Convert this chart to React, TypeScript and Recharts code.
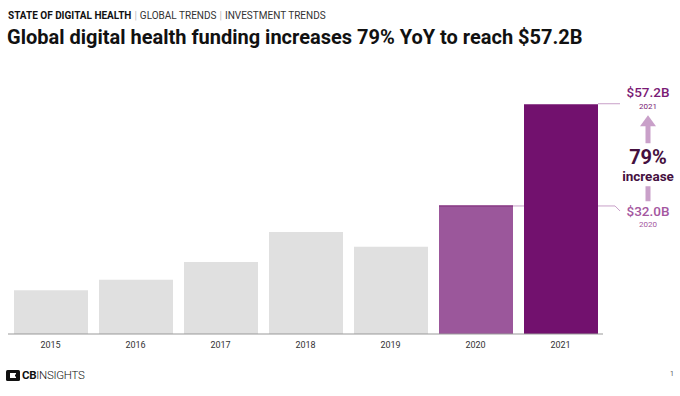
import React from 'react';
import { BarChart, Bar, XAxis, YAxis, Cell, LabelList } from 'recharts';

const years = ['2015', '2016', '2017', '2018', '2019', '2020', '2021'];
const funding = [10.9, 13.5, 17.9, 25.4, 21.7, 32.0, 57.2];
const yoyIncrease = '79%';

const data = years.map((y, i) => ({ year: y, value: funding[i] }));

const W = 680;
const H = 396;
const MARGIN = { top: 93, right: 77, bottom: 32, left: 8 };
const BAR_SIZE = 74;
const BAND = (W - MARGIN.left - MARGIN.right) / years.length;
const GAP = BAND - BAR_SIZE;

const GRAY = '#e0e0e0';
const MID = '#9b579b';
const DARK = '#72116e';
const LEAD = '#c9a0c9';
const FONT = 'Roboto, "Noto Sans", sans-serif';

const colorFor = (i: number) => (i === years.length - 1 ? DARK : i === years.length - 2 ? MID : GRAY);

const fmt = (v: number) => `$${v.toFixed(1)}B`;

const Annot = (props: any) => {
  const { x, y, width, height, index } = props;
  const last = years.length - 1;
  if (index === last - 1) {
    const r = x + width;
    return (
      <g>
        <line x1={x} y1={y + 0.5} x2={r} y2={y + 0.5} stroke="#7d2a78" strokeWidth={1} />
        <line x1={r} y1={y + 0.5} x2={r + GAP} y2={y + 0.5} stroke={LEAD} strokeWidth={1} />
      </g>
    );
  }
  if (index !== last) return null;
  const r = x + width;
  const base = y + height;
  const prevVal = funding[last - 1];
  const curVal = funding[last];
  const yPrev = base - (prevVal / curVal) * height + 0.5;
  const cx = r + 50;
  return (
    <g fontFamily={FONT}>
      <line x1={r} y1={y - 0.5} x2={r + 22} y2={y - 0.5} stroke={LEAD} strokeWidth={1} />
      <text x={cx} y={y - 7} textAnchor="middle" fontSize={13.5} fontWeight={500} fill="#7a1a75">{fmt(curVal)}</text>
      <text x={cx} y={y + 5} textAnchor="middle" fontSize={8} fill="#7a1a75">{years[last]}</text>
      <polygon points={`${cx - 8},${y + 22} ${cx + 8},${y + 22} ${cx},${y + 11}`} fill={LEAD} />
      <rect x={cx - 2.5} y={y + 21} width={5} height={18} fill={LEAD} />
      <text x={cx} y={y + 60} textAnchor="middle" fontSize={20} fontWeight={700} fill="#45103f">{yoyIncrease}</text>
      <text x={cx} y={y + 77} textAnchor="middle" fontSize={13.5} fontWeight={700} fill="#45103f">increase</text>
      <rect x={cx - 2.5} y={y + 82} width={5} height={15} fill={LEAD} />
      <polyline points={`${r},${yPrev} ${r + 17},${yPrev} ${r + 22},${yPrev + 5}`} fill="none" stroke={LEAD} strokeWidth={1} />
      <text x={cx} y={yPrev + 10} textAnchor="middle" fontSize={13.5} fontWeight={500} fill="#a457a0">{fmt(prevVal)}</text>
      <text x={cx} y={yPrev + 21} textAnchor="middle" fontSize={8} fill="#a457a0">{years[last - 1]}</text>
    </g>
  );
};

export default function App() {
  return (
    <div style={{ position: 'absolute', left: 0, top: 0, width: W, height: H, background: '#fff', fontFamily: FONT, overflow: 'hidden' }}>
      <div style={{ position: 'absolute', left: 8, top: 9, fontSize: 10, color: '#111', whiteSpace: 'nowrap', lineHeight: '13px' }}>
        <span style={{ fontWeight: 700 }}>STATE OF DIGITAL HEALTH</span>
        <span style={{ color: '#bbb', margin: '0 3px' }}>|</span>
        <span style={{ color: '#333' }}>GLOBAL TRENDS</span>
        <span style={{ color: '#bbb', margin: '0 3px' }}>|</span>
        <span style={{ color: '#333' }}>INVESTMENT TRENDS</span>
      </div>
      <div style={{ position: 'absolute', left: 7, top: 24, fontSize: 20, fontWeight: 700, color: '#111', whiteSpace: 'nowrap', lineHeight: '26px' }}>
        Global digital health funding increases 79% YoY to reach $57.2B
      </div>
      <div style={{ position: 'absolute', left: 0, top: 0 }}>
        <BarChart width={W} height={H} data={data} margin={MARGIN} barSize={BAR_SIZE}>
          <XAxis
            dataKey="year"
            axisLine={{ stroke: '#999', strokeWidth: 1 }}
            tickLine={false}
            tick={{ fontSize: 9, fill: '#333', fontFamily: FONT }}
            height={30}
          />
          <YAxis hide domain={[0, 60]} />
          <Bar dataKey="value" isAnimationActive={false}>
            {data.map((d, i) => (
              <Cell key={d.year} fill={colorFor(i)} />
            ))}
            <LabelList dataKey="value" content={<Annot />} />
          </Bar>
        </BarChart>
      </div>
      <div style={{ position: 'absolute', left: 6, top: 368, display: 'flex', alignItems: 'center', whiteSpace: 'nowrap' }}>
        <svg width={14} height={11} style={{ marginRight: 2 }}>
          <rect x={0} y={0} width={14} height={11} rx={1.5} fill="#111" />
          <rect x={4} y={3} width={6} height={5} fill="#fff" />
          <rect x={9} y={4.5} width={5} height={2} fill="#111" />
        </svg>
        <span style={{ fontSize: 11.5, fontWeight: 700, color: '#111', letterSpacing: -0.3 }}>CB</span>
        <span style={{ fontSize: 11.5, fontWeight: 300, color: '#111', letterSpacing: -0.3 }}>INSIGHTS</span>
      </div>
      <div style={{ position: 'absolute', left: 670, top: 370, fontSize: 7, color: '#555' }}>1</div>
    </div>
  );
}
